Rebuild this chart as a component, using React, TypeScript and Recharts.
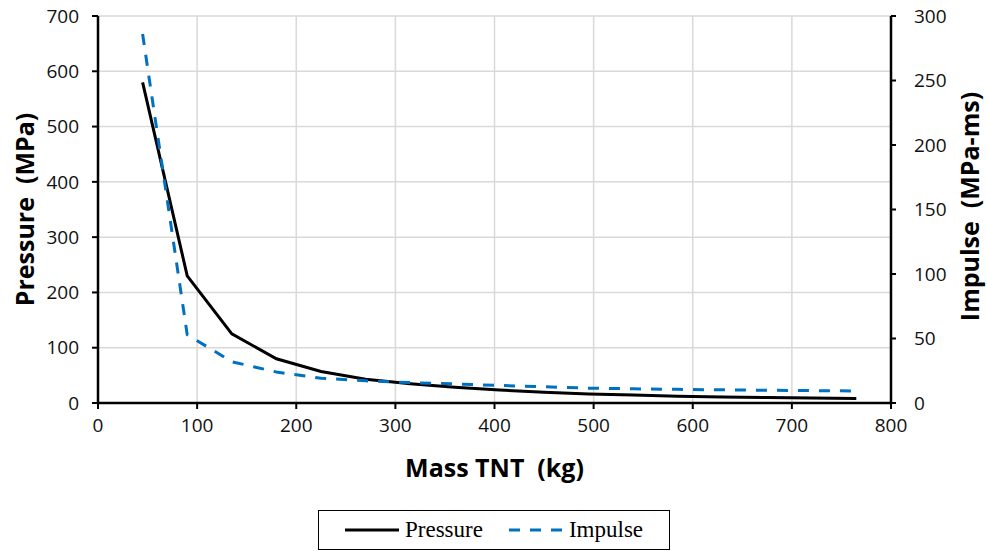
import React from "react";
import {
  LineChart,
  Line,
  XAxis,
  YAxis,
  CartesianGrid,
  Legend,
} from "recharts";

// mass of TNT (kg)
const massTNT = [45, 90, 135, 180, 225, 270, 315, 360, 405, 450, 495, 540, 585, 630, 675, 720, 765];
// pressure (MPa), left axis
const pressure = [580, 230, 125, 80, 57, 43, 35, 28.5, 23.5, 19.5, 16.3, 14.3, 12, 10.8, 10, 9.2, 8.2];
// impulse (MPa-ms), right axis
const impulse = [286, 53, 32, 24, 19.2, 17.2, 15.8, 14.8, 13.6, 12.6, 11.5, 11, 10.6, 10.2, 9.9, 9.6, 9.3];

const seriesOrder = ["Pressure", "Impulse"];

const xTicks = [0, 100, 200, 300, 400, 500, 600, 700, 800];
const pressureTicks = [0, 100, 200, 300, 400, 500, 600, 700];
const impulseTicks = [0, 50, 100, 150, 200, 250, 300];

const data = massTNT.map((m, i) => ({ mass: m, pressure: pressure[i], impulse: impulse[i] }));

const TICK_FONT = { fontSize: 19, fill: "#111", fontFamily: "'Open Sans', sans-serif" };
const TITLE_FONT = "'Open Sans', sans-serif";

function AxisTitle({ viewBox, text, dx, dy = 0, rotate = -90 }: any) {
  const x = viewBox.x + dx;
  const y = viewBox.y + viewBox.height / 2 + dy;
  return (
    <text
      x={x}
      y={y}
      transform={rotate ? `rotate(${rotate} ${x} ${y})` : undefined}
      textAnchor="middle"
      dominantBaseline="central"
      fontFamily={TITLE_FONT}
      fontWeight={700}
      fontSize={25}
      fill="#000"
      style={{ whiteSpace: "pre" }}
    >
      {text}
    </text>
  );
}

function XTitle({ viewBox }: any) {
  const x = viewBox.x + viewBox.width / 2;
  const y = viewBox.y + 74;
  return (
    <text
      x={x}
      y={y}
      textAnchor="middle"
      fontFamily={TITLE_FONT}
      fontWeight={700}
      fontSize={25}
      fill="#000"
      style={{ whiteSpace: "pre" }}
    >
      {"Mass TNT  (kg)"}
    </text>
  );
}

function LegendBox({ payload }: any) {
  return (
    <div
      style={{
        boxSizing: "border-box",
        width: 352,
        height: 40,
        border: "1.5px solid #000",
        display: "flex",
        alignItems: "center",
        paddingLeft: 26,
        fontFamily: "'Liberation Serif', 'Times New Roman', serif",
        fontSize: 23,
        color: "#000",
      }}
    >
      {(payload || []).map((p: any, i: number) => (
        <div key={p.value} style={{ display: "flex", alignItems: "center", marginRight: i === 0 ? 26 : 0 }}>
          <svg width={54} height={10} style={{ marginRight: 6 }}>
            <line
              x1={0}
              y1={5}
              x2={54}
              y2={5}
              stroke={p.color}
              strokeWidth={3}
              strokeDasharray={p.payload?.strokeDasharray}
            />
          </svg>
          <span>{p.value}</span>
        </div>
      ))}
    </div>
  );
}

export default function App() {
  return (
    <div style={{ position: "absolute", left: 0, top: 0, background: "#fff" }}>
      <LineChart width={987} height={551} data={data} margin={{ top: 16, right: 0, bottom: 1, left: 0 }}>
        <CartesianGrid yAxisId="left" stroke="#d9d9d9" strokeWidth={1.5} />
        <XAxis
          dataKey="mass"
          type="number"
          domain={[0, 800]}
          ticks={xTicks}
          height={107}
          tick={TICK_FONT}
          tickSize={6}
          tickMargin={10}
          axisLine={{ stroke: "#000", strokeWidth: 2.5 }}
          tickLine={{ stroke: "#000", strokeWidth: 2 }}
          label={<XTitle />}
        />
        <YAxis
          yAxisId="left"
          type="number"
          domain={[0, 700]}
          ticks={pressureTicks}
          width={98}
          tick={TICK_FONT}
          tickSize={6}
          tickMargin={13}
          axisLine={{ stroke: "#000", strokeWidth: 2.5 }}
          tickLine={{ stroke: "#000", strokeWidth: 2 }}
          label={<AxisTitle text="Pressure  (MPa)" dx={24} />}
        />
        <YAxis
          yAxisId="right"
          orientation="right"
          type="number"
          domain={[0, 300]}
          ticks={impulseTicks}
          width={96}
          tick={TICK_FONT}
          tickSize={5}
          tickMargin={18}
          axisLine={{ stroke: "#000", strokeWidth: 2.5 }}
          tickLine={{ stroke: "#000", strokeWidth: 2 }}
          label={<AxisTitle text="Impulse  (MPa-ms)" dx={78} dy={-3} />}
        />
        <Legend
          verticalAlign="bottom"
          content={<LegendBox />}
          itemSorter={(item: any) => seriesOrder.indexOf(item.value)}
          wrapperStyle={{ left: 318, width: 352, bottom: 1 }}
        />
        <Line
          yAxisId="left"
          name="Pressure"
          dataKey="pressure"
          stroke="#000"
          strokeWidth={3}
          dot={false}
          isAnimationActive={false}
        />
        <Line
          yAxisId="right"
          name="Impulse"
          dataKey="impulse"
          stroke="#0070c0"
          strokeWidth={3}
          strokeDasharray="11 10"
          dot={false}
          isAnimationActive={false}
        />
      </LineChart>
    </div>
  );
}
